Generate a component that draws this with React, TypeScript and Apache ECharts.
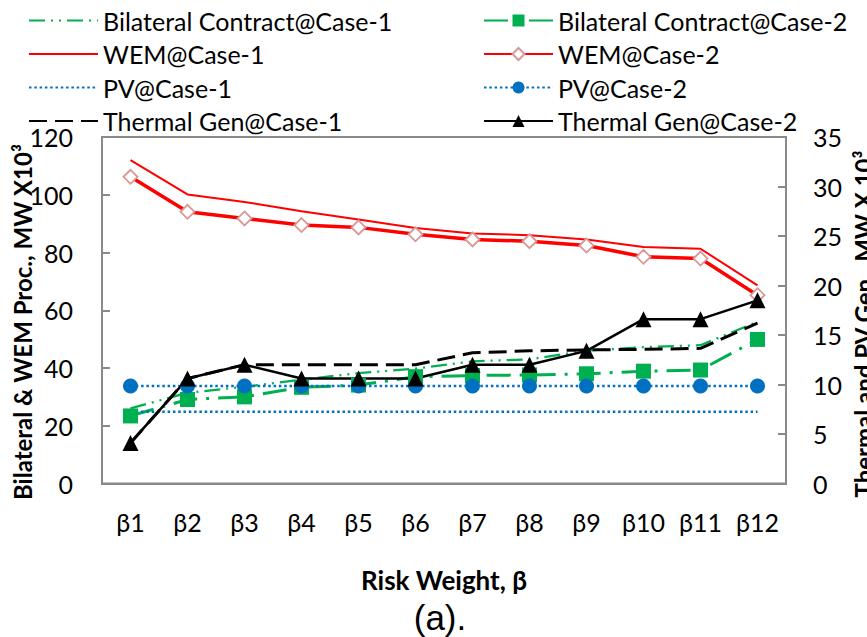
import React, { useEffect, useRef } from "react";
import * as echarts from "echarts";

// Risk-weight categories on the shared x axis
const categories = ["β1", "β2", "β3", "β4", "β5", "β6", "β7", "β8", "β9", "β10", "β11", "β12"];

// Left axis (MW x10³): bilateral contracts and wholesale market procurement
const bilateralCase1 = [26.0, 31.4, 33.5, 36.0, 38.2, 39.8, 42.3, 43.0, 46.0, 47.2, 47.9, 56.0];
const bilateralCase2 = [23.4, 29.1, 30.0, 33.3, 34.1, 37.0, 37.4, 37.6, 38.0, 38.9, 39.3, 49.9];
const wemCase1 = [112.0, 100.1, 97.5, 94.3, 91.4, 88.5, 86.6, 86.0, 84.5, 81.9, 81.3, 68.6];
const wemCase2 = [106.2, 94.1, 91.8, 89.5, 88.7, 86.3, 84.5, 83.9, 82.4, 78.5, 77.9, 65.2];

// Right axis (MW x10³): PV and thermal generation
const pvCase1 = [7.25, 7.25, 7.25, 7.25, 7.25, 7.25, 7.25, 7.25, 7.25, 7.25, 7.25, 7.25];
const pvCase2 = [9.85, 9.85, 9.85, 9.85, 9.85, 9.85, 9.85, 9.85, 9.85, 9.85, 9.85, 9.85];
const thermalCase1 = [4.1, 10.6, 12.0, 12.0, 12.0, 12.0, 13.2, 13.4, 13.5, 13.55, 13.65, 16.2];
const thermalCase2 = [4.1, 10.6, 12.0, 10.6, 10.6, 10.6, 12.0, 12.0, 13.4, 16.6, 16.6, 18.5];

// Axis ranges and tick steps
const leftAxisRange = { min: 0, max: 120, interval: 20 };
const rightAxisRange = { min: 0, max: 35, interval: 5 };

const FONT = 'Lato, "Noto Sans", sans-serif';
const GREEN = "#00b050";
const RED = "#ff0000";
const BLUE = "#0070c0";
const BLACK = "#000000";
const FRAME = "#898989";

const case1Names = [
  "Bilateral Contract@Case-1",
  "WEM@Case-1",
  "PV@Case-1",
  "Thermal Gen@Case-1",
];
const case2Names = [
  "Bilateral Contract@Case-2",
  "WEM@Case-2",
  "PV@Case-2",
  "Thermal Gen@Case-2",
];

export default function App() {
  const ref = useRef<HTMLDivElement>(null);

  useEffect(() => {
    if (!ref.current) return;
    const chart = echarts.init(ref.current, undefined, { renderer: "svg" });

    const legendCommon = {
      orient: "vertical" as const,
      top: 3,
      itemWidth: 69,
      itemHeight: 15,
      itemGap: 8.5,
      selectedMode: false,
      textStyle: { fontFamily: FONT, fontSize: 25, color: BLACK },
    };

    const axisLabel = { fontFamily: FONT, fontSize: 25, color: BLACK };

    chart.setOption({
      animation: false,
      backgroundColor: "#ffffff",
      grid: {
        left: 102,
        right: 81,
        top: 137,
        bottom: 153.5,
        show: true,
        borderColor: FRAME,
        borderWidth: 2,
        backgroundColor: "transparent",
      },
      legend: [
        {
          ...legendCommon,
          left: 23,
          // line-only series: keep the line sample, hide the marker
          data: case1Names.map((name) => ({ name, itemStyle: { opacity: 0 } })),
        },
        { ...legendCommon, left: 478, data: case2Names },
      ],
      xAxis: {
        type: "category",
        data: categories,
        boundaryGap: true,
        axisLine: { show: true, lineStyle: { color: FRAME, width: 2 } },
        axisTick: { show: false },
        axisLabel: { ...axisLabel, margin: 26 },
        splitLine: { show: false },
      },
      yAxis: [
        {
          type: "value",
          position: "left",
          ...leftAxisRange,
          axisLine: { show: true, lineStyle: { color: FRAME, width: 2 } },
          axisTick: { show: true, inside: true, length: 8, lineStyle: { color: FRAME, width: 2 } },
          axisLabel: { ...axisLabel, margin: 29 },
          splitLine: { show: false },
        },
        {
          type: "value",
          position: "right",
          ...rightAxisRange,
          axisLine: { show: true, lineStyle: { color: FRAME, width: 2 } },
          axisTick: { show: true, inside: true, length: 8, lineStyle: { color: FRAME, width: 2 } },
          axisLabel: { ...axisLabel, margin: 27 },
          splitLine: { show: false },
        },
      ],
      series: [
        {
          name: "Bilateral Contract@Case-1",
          type: "line",
          yAxisIndex: 0,
          data: bilateralCase1,
          symbol: "none",
          itemStyle: { color: GREEN },
          lineStyle: { color: GREEN, width: 2.25, type: [16, 6, 2, 6, 2, 6] },
        },
        {
          name: "Bilateral Contract@Case-2",
          type: "line",
          yAxisIndex: 0,
          data: bilateralCase2,
          symbol: "rect",
          symbolSize: 15,
          itemStyle: { color: GREEN },
          lineStyle: { color: GREEN, width: 3, type: [24, 9, 3, 9] },
        },
        {
          name: "WEM@Case-1",
          type: "line",
          yAxisIndex: 0,
          data: wemCase1,
          symbol: "none",
          itemStyle: { color: RED },
          lineStyle: { color: RED, width: 2 },
        },
        {
          name: "WEM@Case-2",
          type: "line",
          yAxisIndex: 0,
          data: wemCase2,
          symbol: "diamond",
          symbolSize: 14,
          itemStyle: { color: "#ffffff", borderColor: "#d99694", borderWidth: 1.8 },
          lineStyle: { color: RED, width: 3.5 },
        },
        {
          name: "PV@Case-1",
          type: "line",
          yAxisIndex: 1,
          data: pvCase1,
          symbol: "none",
          itemStyle: { color: BLUE },
          lineStyle: { color: BLUE, width: 2.5, type: [2.5, 2.8] },
        },
        {
          name: "PV@Case-2",
          type: "line",
          yAxisIndex: 1,
          data: pvCase2,
          symbol: "circle",
          symbolSize: 15,
          itemStyle: { color: BLUE },
          lineStyle: { color: BLUE, width: 2.5, type: [2.5, 2.8] },
        },
        {
          name: "Thermal Gen@Case-1",
          type: "line",
          yAxisIndex: 1,
          data: thermalCase1,
          symbol: "none",
          itemStyle: { color: BLACK },
          lineStyle: { color: BLACK, width: 3, type: [18, 8] },
        },
        {
          name: "Thermal Gen@Case-2",
          type: "line",
          yAxisIndex: 1,
          data: thermalCase2,
          symbol: "triangle",
          symbolSize: 16,
          itemStyle: { color: BLACK },
          lineStyle: { color: BLACK, width: 2.5 },
        },
      ],
      graphic: [
        {
          type: "text",
          x: 22,
          y: 322,
          rotation: Math.PI / 2,
          style: {
            text: "Bilateral & WEM Proc., MW X10³",
            fontFamily: FONT,
            fontSize: 24,
            fontWeight: "bold",
            fill: BLACK,
            align: "center",
            verticalAlign: "middle",
          },
        },
        {
          type: "text",
          x: 863,
          y: 324,
          rotation: Math.PI / 2,
          style: {
            text: "Thermal and PV Gen., MW X 10³",
            fontFamily: FONT,
            fontSize: 24,
            fontWeight: "bold",
            fill: BLACK,
            align: "center",
            verticalAlign: "middle",
          },
        },
        {
          type: "text",
          x: 444,
          y: 580,
          style: {
            text: "Risk Weight, β",
            fontFamily: FONT,
            fontSize: 26,
            fontWeight: "bold",
            fill: BLACK,
            align: "center",
            verticalAlign: "middle",
          },
        },
        {
          type: "text",
          x: 440,
          y: 617,
          style: {
            text: "(a).",
            fontFamily: '"Liberation Sans", Arial, sans-serif',
            fontSize: 35,
            fill: BLACK,
            align: "center",
            verticalAlign: "middle",
          },
        },
      ],
    });

    return () => chart.dispose();
  }, []);

  return (
    <div
      style={{ position: "fixed", left: 0, top: 0, width: 867, height: 637, overflow: "hidden", background: "#fff" }}
    >
      <div ref={ref} style={{ width: 867, height: 637 }} />
    </div>
  );
}
